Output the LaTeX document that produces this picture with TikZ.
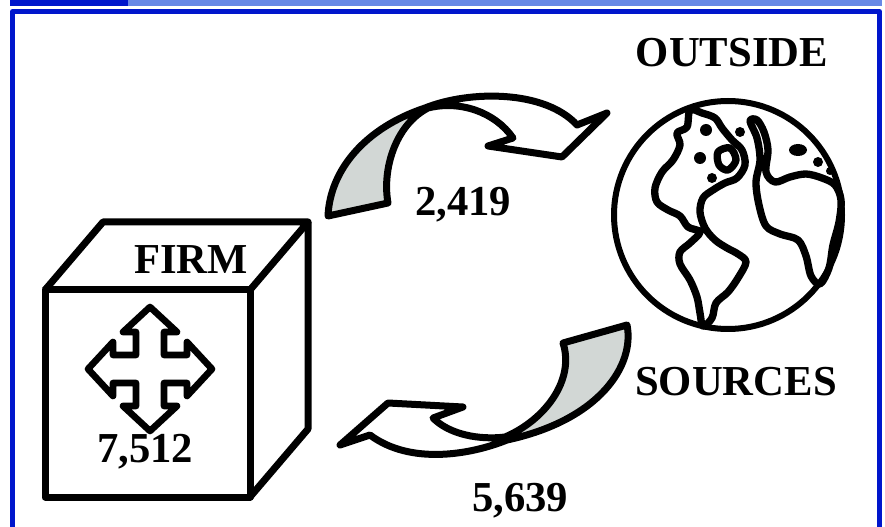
\documentclass[tikz,border=0pt]{standalone}
\usepackage{fontspec}
\setmainfont{Liberation Serif}
\definecolor{framblue}{RGB}{0,22,204}
\definecolor{barlight}{RGB}{104,136,230}
\definecolor{ribbongrey}{RGB}{210,215,213}

\begin{document}
\begin{tikzpicture}[x=0.75pt,y=0.75pt,yscale=-1,xscale=1,line join=round,
  heavy/.style={line width=5.25pt},
  land/.style={line width=5.5pt,line cap=round},
  bigtext/.style={inner sep=0.75pt,font=\fontsize{32}{36}\selectfont\bfseries}]
\useasboundingbox (0,0) rectangle (885,527);

%Shape: Top bar
\fill[barlight] (10,0) rectangle (882,6);
\fill[framblue] (10,0) rectangle (128,6);
%Shape: Frame
\draw[framblue,line width=3.75pt] (12.5,11.5) rectangle (879.5,545);

%Shape: Cube
\draw[heavy] (45,290) rectangle (250,497);
\draw[heavy] (45,290) -- (103,222) -- (308,222) -- (250,290);
\draw[heavy] (308,222) -- (308,429) -- (250,497);
%Shape: Move arrows
\begin{scope}[shift={(150,369)}]
\draw[line width=5pt] (0,-62) -- (27,-37) -- (14,-37) -- (14,-14) -- (37,-14) -- (37,-27) -- (62,0) -- (37,27) -- (37,14) -- (14,14) -- (14,37) -- (27,37) -- (0,62) -- (-27,37) -- (-14,37) -- (-14,14) -- (-37,14) -- (-37,27) -- (-62,0) -- (-37,-27) -- (-37,-14) -- (-14,-14) -- (-14,-37) -- (-27,-37) -- cycle ;
\end{scope}

%Shape: Upper ribbon arrow
\fill[ribbongrey] (328,216) .. controls (330,170) and (365,128) .. (425,108) -- (428,108) .. controls (395,125) and (382,170) .. (388,203) -- cycle ;
\draw[heavy] (328,216) .. controls (330,170) and (365,128) .. (425,108) .. controls (470,90) and (545,90) .. (577,125) -- (607,113) -- (562,157) -- (488,146) -- (513,138) .. controls (495,112) and (460,100) .. (428,108) .. controls (395,125) and (382,170) .. (388,203) -- cycle ;
%Shape: Lower ribbon arrow
\fill[ribbongrey] (627,325) .. controls (635,365) and (600,420) .. (507,440) -- (505,437) .. controls (545,420) and (575,380) .. (563,343) -- cycle ;
\draw[heavy] (627,325) .. controls (635,365) and (600,420) .. (507,440) .. controls (470,455) and (410,465) .. (370,435) -- (340,445) -- (388,403) -- (463,407) -- (433,418) .. controls (450,435) and (480,440) .. (505,437) .. controls (545,420) and (575,380) .. (563,343) -- cycle ;

%Shape: Globe
\draw[line width=4.5pt] (728,215) circle [radius=114] ;
\draw[land] plot[smooth cycle,tension=0.55] coordinates {(690,110) (687,127) (677,133) (680,145) (673,160) (662,172) (655,188) (657,202) (668,210) (680,216) (688,227) (700,232) (690,243) (680,252) (680,264) (690,280) (697,297) (700,313) (703,326) (712,318) (716,303) (728,292) (738,278) (746,262) (738,254) (727,248) (715,240) (705,228) (700,212) (703,198) (713,190) (725,183) (737,178) (745,165) (742,150) (732,140) (722,128) (715,118) (702,113)} ;
\draw[land] plot[smooth cycle,tension=0.55] coordinates {(718,152) (730,148) (736,160) (728,170) (719,165)} ;
\draw[land] plot[smooth cycle,tension=0.55] coordinates {(750,121) (757,138) (760,160) (756,182) (759,205) (766,226) (780,234) (798,240) (806,256) (811,276) (820,284) (829,268) (833,245) (839,222) (841,200) (835,185) (822,178) (806,174) (790,177) (775,182) (766,172) (768,150) (764,132) (757,120)} ;
\fill (798,150) ellipse [x radius=9,y radius=6] ;
\fill (818,162) circle [radius=5] ;
\fill (830,171) circle [radius=4] ;
\fill (706,130) circle [radius=6] ;
\fill (700,158) circle [radius=6] ;
\fill (712,178) circle [radius=5] ;
\fill (740,132) circle [radius=5] ;

% Text Node
\draw (191,273) node [anchor=base,bigtext] (firm) {FIRM};
% Text Node
\draw (145,462) node [anchor=base,bigtext] (firmval) {7,512};
% Text Node
\draw (463,216) node [anchor=base,bigtext] (outflow) {2,419};
% Text Node
\draw (520,511) node [anchor=base,bigtext] (inflow) {5,639};
% Text Node
\draw (732,67) node [anchor=base,bigtext] (outside) {OUTSIDE};
% Text Node
\draw (736,395) node [anchor=base,bigtext] (sources) {SOURCES};
\end{tikzpicture}
\end{document}
